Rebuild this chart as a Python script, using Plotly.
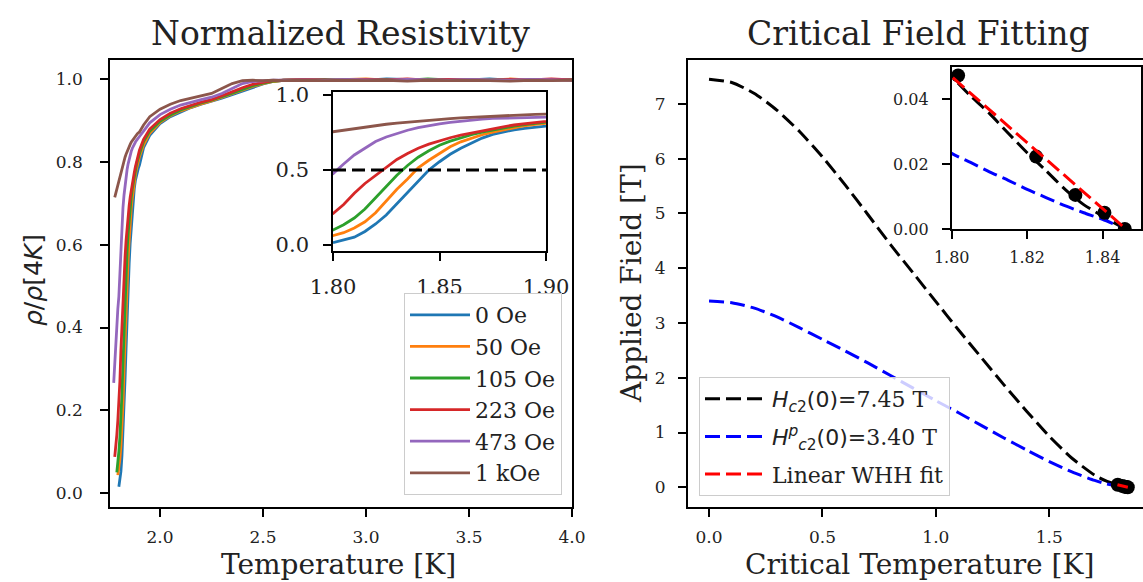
import plotly.graph_objects as go

# ---------------- data: left panel (normalized resistivity) ----------------
T_K = [1.775, 1.780, 1.785, 1.790, 1.795,
       1.800, 1.805, 1.810, 1.815, 1.820, 1.825, 1.830, 1.835, 1.840, 1.845,
       1.850, 1.855, 1.860, 1.865, 1.870, 1.875, 1.880, 1.885, 1.890, 1.895, 1.900,
       1.92, 1.95, 2.00, 2.05, 2.10, 2.15, 2.20, 2.25, 2.30, 2.35, 2.40, 2.45,
       2.50, 2.55, 2.60, 2.70, 2.80, 2.90, 3.00, 3.10, 3.20, 3.30, 3.40, 3.50,
       3.60, 3.70, 3.80, 3.90, 4.00]

rho_0Oe = [None, None, None, None, None,
           0.015, 0.032, 0.052, 0.090, 0.140, 0.200, 0.275, 0.350, 0.430, 0.500,
           0.555, 0.605, 0.645, 0.680, 0.713, 0.737, 0.755, 0.768, 0.778, 0.786, 0.793,
           0.835, 0.865, 0.893, 0.910, 0.922, 0.932, 0.940, 0.947, 0.955, 0.963, 0.972, 0.981,
           0.989, 0.995, 0.998, 0.999, 0.997, 1.000, 0.998, 1.001, 0.999, 0.998, 1.000, 0.999,
           1.001, 0.998, 1.000, 0.999, 1.000]
rho_50Oe = [None, None, None, None, 0.043,
            0.060, 0.082, 0.113, 0.155, 0.215, 0.295, 0.372, 0.440, 0.515, 0.565,
            0.610, 0.655, 0.688, 0.712, 0.735, 0.753, 0.768, 0.782, 0.795, 0.805, 0.813,
            0.842, 0.870, 0.896, 0.912, 0.924, 0.933, 0.941, 0.948, 0.957, 0.965, 0.974, 0.983,
            0.990, 0.995, 0.998, 1.000, 0.998, 0.999, 1.001, 0.998, 1.000, 0.999, 0.997, 1.000,
            0.999, 1.001, 0.998, 1.000, 0.999]
rho_105Oe = [None, None, None, 0.050, 0.072,
             0.100, 0.135, 0.180, 0.240, 0.315, 0.390, 0.465, 0.530, 0.585, 0.628,
             0.665, 0.692, 0.715, 0.735, 0.752, 0.767, 0.781, 0.793, 0.803, 0.812, 0.820,
             0.850, 0.875, 0.899, 0.914, 0.926, 0.935, 0.943, 0.950, 0.958, 0.967, 0.976, 0.985,
             0.991, 0.996, 0.998, 0.999, 1.000, 0.998, 0.999, 1.000, 0.998, 1.001, 0.999, 0.998,
             1.000, 0.999, 0.998, 1.000, 0.999]
rho_223Oe = [None, 0.087, 0.110, 0.140, 0.175,
             0.210, 0.270, 0.345, 0.410, 0.465, 0.520, 0.570, 0.610, 0.645, 0.672,
             0.695, 0.715, 0.733, 0.748, 0.762, 0.775, 0.788, 0.800, 0.810, 0.820, 0.829,
             0.855, 0.880, 0.903, 0.918, 0.929, 0.937, 0.945, 0.951, 0.960, 0.970, 0.980, 0.988,
             0.993, 0.997, 0.998, 1.000, 0.999, 0.998, 1.000, 0.999, 1.001, 0.998, 1.000, 0.999,
             0.998, 1.000, 0.999, 1.001, 0.999]
rho_473Oe = [0.266, 0.320, 0.370, 0.410, 0.445,
             0.475, 0.540, 0.600, 0.645, 0.690, 0.720, 0.745, 0.765, 0.782, 0.796,
             0.808, 0.818, 0.826, 0.833, 0.839, 0.844, 0.848, 0.852, 0.856, 0.859, 0.862,
             0.875, 0.895, 0.915, 0.928, 0.938, 0.945, 0.951, 0.957, 0.966, 0.978, 0.990, 0.995,
             0.997, 0.998, 0.998, 0.999, 0.998, 1.000, 0.999, 0.998, 1.000, 0.999, 0.998, 1.000,
             0.999, 0.998, 1.000, 0.999, 0.998]
rho_1kOe = [None, 0.715, 0.725, 0.735, 0.747,
            0.758, 0.768, 0.778, 0.788, 0.797, 0.805, 0.812, 0.819, 0.826, 0.832,
            0.838, 0.843, 0.848, 0.852, 0.856, 0.860, 0.863, 0.866, 0.869, 0.871, 0.873,
            0.890, 0.910, 0.928, 0.940, 0.949, 0.955, 0.960, 0.966, 0.978, 0.990, 0.997, 0.998,
            0.997, 0.998, 0.997, 0.998, 0.997, 0.998, 0.997, 0.998, 0.996, 0.998, 0.997, 0.998,
            0.997, 0.996, 0.998, 0.997, 0.998]

series_names = ["0 Oe", "50 Oe", "105 Oe", "223 Oe", "473 Oe", "1 kOe"]
series_values = [rho_0Oe, rho_50Oe, rho_105Oe, rho_223Oe, rho_473Oe, rho_1kOe]
series_colors = ["#1f77b4", "#ff7f0e", "#2ca02c", "#d62728", "#9467bd", "#8c564b"]

half_T = [1.80, 1.90]
half_rho = [0.5, 0.5]

# ---------------- data: right panel (critical field) ----------------
T_fit = [0.0, 0.1, 0.2, 0.3, 0.4, 0.5, 0.6, 0.7, 0.8, 0.9, 1.0, 1.1, 1.2, 1.3,
         1.4, 1.5, 1.6, 1.7, 1.75, 1.80, 1.805, 1.81, 1.815, 1.82, 1.825,
         1.83, 1.835, 1.84, 1.846]
H_orbital = [7.45, 7.39, 7.19, 6.88, 6.49, 6.03, 5.52, 4.98, 4.43, 3.91, 3.39,
             2.87, 2.37, 1.87, 1.39, 0.93, 0.53, 0.22, 0.115, 0.047, 0.041,
             0.0356, 0.0295, 0.0235, 0.018, 0.0123, 0.0075, 0.0040, 0.0]
H_pauli = [3.40, 3.37, 3.27, 3.11, 2.91, 2.70, 2.49, 2.27, 2.04, 1.81, 1.58,
           1.36, 1.13, 0.90, 0.68, 0.47, 0.28, 0.125, 0.063, 0.0233, 0.0205,
           0.0176, 0.0150, 0.0122, 0.0097, 0.0072, 0.0050, 0.0030, 0.0]

lin_T = [1.8003, 1.8462]
lin_H = [0.0466, 0.0]

Tc_points = [1.8017, 1.8224, 1.8328, 1.8405, 1.8459]
H_points = [0.0473, 0.0223, 0.0105, 0.0050, 0.0]

label_orb = ('<span style="font-family:DejaVu Sans"><i>H</i><sub><i>c</i>2</sub>(0)</span>'
             '=7.45 T')
label_pauli = ('<span style="font-family:DejaVu Sans"><i>H</i><sup><i>p</i></sup>'
               '<sub><i>c</i>2</sub>(0)</span>=3.40 T')
label_lin = "Linear WHH fit"

# ---------------- figure ----------------
W, H = 1143, 582
SERIF = "DejaVu Serif"
DASH = "15px,6px"

fig = go.Figure()

for name, vals, col in zip(series_names, series_values, series_colors):
    fig.add_trace(go.Scatter(x=T_K, y=vals, mode="lines", name=name,
                             line=dict(color=col, width=2.8),
                             xaxis="x", yaxis="y", legend="legend",
                             legendgroup=name))
for name, vals, col in zip(series_names, series_values, series_colors):
    fig.add_trace(go.Scatter(x=T_K, y=vals, mode="lines", name=name,
                             line=dict(color=col, width=2.8),
                             xaxis="x2", yaxis="y2", showlegend=False))
fig.add_trace(go.Scatter(x=half_T, y=half_rho, mode="lines", showlegend=False,
                         line=dict(color="black", width=3, dash="13px,6px"),
                         xaxis="x2", yaxis="y2"))

for xa, ya, show in [("x3", "y3", True), ("x4", "y4", False)]:
    fig.add_trace(go.Scatter(x=T_fit, y=H_orbital, mode="lines", name=label_orb,
                             line=dict(color="black", width=3, dash=DASH, shape="spline",
                                       smoothing=0.6),
                             xaxis=xa, yaxis=ya, showlegend=show,
                             legend="legend2", legendgroup="orb"))
    fig.add_trace(go.Scatter(x=T_fit, y=H_pauli, mode="lines", name=label_pauli,
                             line=dict(color="blue", width=3, dash=DASH, shape="spline",
                                       smoothing=0.6),
                             xaxis=xa, yaxis=ya, showlegend=show,
                             legend="legend2", legendgroup="pauli"))
    fig.add_trace(go.Scatter(x=Tc_points, y=H_points, mode="markers",
                             marker=dict(color="black", size=14),
                             xaxis=xa, yaxis=ya, showlegend=False))
    fig.add_trace(go.Scatter(x=lin_T, y=lin_H, mode="lines", name=label_lin,
                             line=dict(color="red", width=3, dash=DASH),
                             xaxis=xa, yaxis=ya, showlegend=show,
                             legend="legend2", legendgroup="lin"))


def ax(domain, rng, tickvals, fmt, size, anchor, standoff=8):
    return dict(domain=domain, range=rng, tickvals=tickvals, tickformat=fmt,
                anchor=anchor, showline=True, mirror=True, linecolor="black",
                linewidth=1.6, ticks="outside", ticklen=8, tickwidth=1.5,
                tickcolor="black", showgrid=False, zeroline=False, automargin=False,
                tickfont=dict(family=SERIF, size=size, color="#222"),
                ticklabelstandoff=standoff)


fx = lambda px: px / W
fy = lambda py: 1 - py / H

fig.update_layout(
    width=W, height=H, margin=dict(l=0, r=0, t=0, b=0, pad=0, autoexpand=False),
    paper_bgcolor="white", plot_bgcolor="rgba(0,0,0,0)",
    showlegend=True,
    xaxis=ax([fx(110), fx(572)], [1.757, 4.0], [2.0, 2.5, 3.0, 3.5, 4.0], ".1f", 17, "y", 6),
    yaxis=ax([fy(507), fy(60)], [-0.034, 1.047], [0, 0.2, 0.4, 0.6, 0.8, 1.0], ".1f", 17, "x", 14),
    xaxis2=ax([fx(333), fx(546)], [1.80, 1.90], [1.80, 1.85, 1.90], ".2f", 21, "y2", 8),
    yaxis2=ax([fy(250.7), fy(92.3)], [-0.038, 1.018], [0.0, 0.5, 1.0], ".1f", 21, "x2", 10),
    xaxis3=ax([fx(687.7), 1.0], [-0.094, 1.913], [0.0, 0.5, 1.0, 1.5], ".1f", 17, "y3", 6),
    yaxis3=ax([fy(507), fy(60)], [-0.36, 7.80], [0, 1, 2, 3, 4, 5, 6, 7], "d", 17, "x3", 9),
    xaxis4=ax([fx(951.7), fx(1141)], [1.80, 1.8502], [1.80, 1.82, 1.84], ".2f", 16, "y4", 5),
    yaxis4=ax([fy(229), fy(66.7)], [0.0, 0.05], [0.0, 0.02, 0.04], ".2f", 16, "x4", 10),
    legend=dict(x=fx(562), y=fy(495), xanchor="right", yanchor="bottom",
                bgcolor="rgba(255,255,255,0.8)", bordercolor="#cccccc", borderwidth=1,
                font=dict(family=SERIF, size=22, color="#222"), tracegroupgap=0,
                itemwidth=60),
    legend2=dict(x=fx(699), y=fy(496), xanchor="left", yanchor="bottom",
                 bgcolor="rgba(255,255,255,0.8)", bordercolor="#cccccc", borderwidth=1,
                 font=dict(family=SERIF, size=22, color="#222"), tracegroupgap=6,
                 itemwidth=62),
)

annos = [
    dict(text="Normalized Resistivity", x=fx(340), y=fy(33), size=33, angle=0, fam=SERIF),
    dict(text="Critical Field Fitting", x=fx(918), y=fy(33), size=33, angle=0, fam=SERIF),
    dict(text="Temperature [K]", x=fx(338), y=fy(564), size=28, angle=0, fam=SERIF),
    dict(text="Critical Temperature [K]", x=fx(919), y=fy(564), size=28, angle=0, fam=SERIF),
    dict(text="<i>ρ</i>/<i>ρ</i>[4<i>K</i>]", x=fx(33), y=fy(280), size=25, angle=-90,
         fam="DejaVu Sans"),
    dict(text="Applied Field [T]", x=fx(631), y=fy(283), size=28, angle=-90, fam=SERIF),
]
for a in annos:
    fig.add_annotation(text=a["text"], x=a["x"], y=a["y"], xref="paper", yref="paper",
                       xanchor="center", yanchor="middle", showarrow=False,
                       textangle=a["angle"],
                       font=dict(family=a["fam"], size=a["size"], color="#222"))

fig.write_html("out.html", config={"displayModeBar": False},
               post_script="document.body.style.margin='0px';"
                           "document.body.style.overflow='hidden';")
